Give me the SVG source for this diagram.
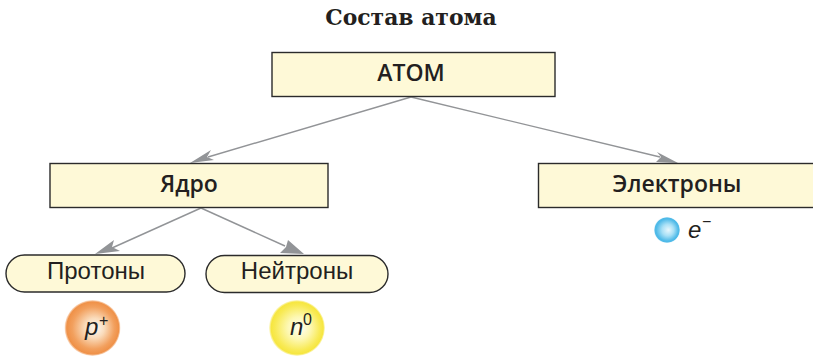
<svg xmlns="http://www.w3.org/2000/svg" width="813" height="357" viewBox="0 0 813 357">
<style>
.box{fill:#fef9d7;stroke:#2b2b2b;stroke-width:1.4}
.b{font-family:"Open Sans","Liberation Sans",sans-serif;font-size:23px;font-weight:600;fill:#231f20;text-anchor:middle}
.r{font-family:"Liberation Sans",sans-serif;font-size:24px;fill:#231f20;text-anchor:middle}
.i{font-family:"Liberation Sans",sans-serif;font-style:italic;font-size:24px;fill:#231f20}
.s{font-family:"Liberation Sans",sans-serif;font-size:16px;fill:#231f20}
.c{stroke:#929497;stroke-width:1.4;fill:none}
.a{fill:#929497}
</style>
<defs>
<radialGradient id="go" fx=".56" fy=".5"><stop offset="0" stop-color="#fdf8f2"/><stop offset=".35" stop-color="#fadcbc"/><stop offset=".75" stop-color="#f2a05e"/><stop offset=".93" stop-color="#ef9148"/><stop offset="1" stop-color="#ef9148" stop-opacity=".2"/></radialGradient>
<radialGradient id="gy" fx=".56" fy=".5"><stop offset="0" stop-color="#fffef4"/><stop offset=".4" stop-color="#fdf8b4"/><stop offset=".8" stop-color="#f8ea55"/><stop offset=".93" stop-color="#f6e640"/><stop offset="1" stop-color="#f6e640" stop-opacity=".2"/></radialGradient>
<radialGradient id="gb" fx=".56" fy=".5"><stop offset="0" stop-color="#e8f7fd"/><stop offset=".45" stop-color="#a8e0f6"/><stop offset=".85" stop-color="#4fbae8"/><stop offset=".93" stop-color="#4fbae8"/><stop offset="1" stop-color="#4fbae8" stop-opacity=".2"/></radialGradient>
</defs>
<text x="411" y="25" text-anchor="middle" font-family="'DejaVu Serif',serif" font-weight="700" font-size="21.900" fill="#231f20">Состав атома</text>
<g id="connectors">
<path class="c" d="M411 97L208 157"/><polygon class="a" points="190,163 211,150 207,157 214,160"/>
<path class="c" d="M411 97L660 157"/><polygon class="a" points="678,163 656,162 661,157 657,152"/>
<path class="c" d="M201 208L112 248"/><polygon class="a" points="95,254 114,240 112,247 120,251"/>
<path class="c" d="M201 208L285 246"/><polygon class="a" points="304,254 280,253 286,247 288,240"/>
</g>
<g id="atom"><rect class="box" x="272" y="52.500" width="283" height="44"/><text class="b" x="411" y="81">АТОМ</text></g>
<g id="nucleus"><rect class="box" x="50" y="163.500" width="278" height="44"/><text class="b" x="189" y="192">Ядро</text></g>
<g id="electrons"><rect class="box" x="538.500" y="163.500" width="276" height="44"/><text class="b" x="677" y="192">Электроны</text></g>
<g id="protons"><rect class="box" x="6" y="255" width="179" height="37" rx="18.500"/><text class="r" x="96" y="279">Протоны</text></g>
<g id="neutrons"><rect class="box" x="206" y="255.500" width="182" height="37" rx="18.500"/><text class="r" x="297" y="279">Нейтроны</text></g>
<g id="p"><circle cx="92.500" cy="328" r="28" fill="url(#go)"/><text class="i" x="85" y="335">p</text><text class="s" x="99" y="326">+</text></g>
<g id="n"><circle cx="297" cy="328" r="28" fill="url(#gy)"/><text class="i" x="290" y="335">n</text><text class="s" x="303" y="325">0</text></g>
<g id="e"><circle cx="667" cy="230" r="13" fill="url(#gb)"/><text class="i" x="688" y="238">e</text><text class="s" x="702" y="227">−</text></g>
</svg>
